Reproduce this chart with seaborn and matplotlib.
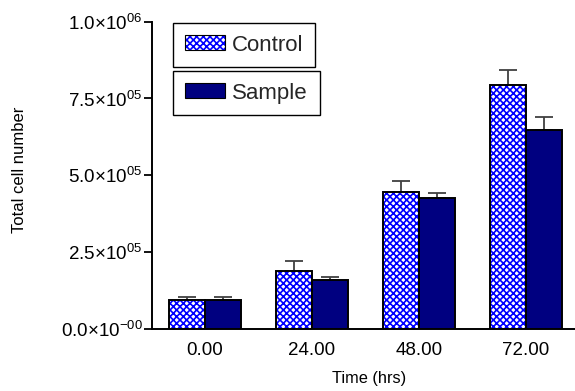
import matplotlib
matplotlib.use("Agg")
import matplotlib.pyplot as plt
from matplotlib.patches import Patch, Rectangle
import numpy as np
import pandas as pd
import seaborn as sns

# ---- data -------------------------------------------------------------
times = ["0.00", "24.00", "48.00", "72.00"]
control = [0.96e5, 1.90e5, 4.45e5, 7.93e5]
control_err = [0.09e5, 0.31e5, 0.38e5, 0.51e5]
sample = [0.95e5, 1.61e5, 4.28e5, 6.49e5]
sample_err = [0.10e5, 0.10e5, 0.16e5, 0.42e5]
groups = ["Control", "Sample"]
y_ticks = [0, 2.5e5, 5.0e5, 7.5e5, 1.0e6]
y_tick_labels = ["0.0×10$^{-00}$", "2.5×10$^{05}$", "5.0×10$^{05}$",
                 "7.5×10$^{05}$", "1.0×10$^{06}$"]

df = pd.DataFrame({
    "time": times * 2,
    "cells": control + sample,
    "group": [groups[0]] * len(times) + [groups[1]] * len(times),
})

# ---- style ------------------------------------------------------------
sns.set_theme(style="ticks")
plt.rcParams.update({
    "font.family": ["Liberation Sans", "DejaVu Sans"],
    "mathtext.fontset": "custom",
    "mathtext.rm": "Liberation Sans",
    "mathtext.it": "Liberation Sans:italic",
    "mathtext.default": "regular",
    "hatch.linewidth": 1.2,
})

fig = plt.figure(figsize=(5.75, 3.91), dpi=100)
ax = fig.add_axes([152 / 575, 1 - 329.3 / 391, 1 - 152 / 575, (329.3 - 21.5) / 391])

navy = "#000080"
hatch_color = "#0000ff"
cross = "xxxxx"
sns.barplot(data=df, x="time", y="cells", hue="group", order=times,
            hue_order=groups, palette=["white", navy], saturation=1,
            width=0.673, errorbar=None, legend=False, ax=ax, zorder=2)

edge_kw = dict(facecolor="none", edgecolor="black", linewidth=1.4, zorder=3)

# control bars: blue cross-hatch on white with a black outline
for bar in ax.containers[0]:
    bar.set_hatch(cross)
    bar.set_edgecolor(hatch_color)
    bar.set_linewidth(0)
    ax.add_patch(Rectangle(bar.get_xy(), bar.get_width(), bar.get_height(), **edge_kw))
# sample bars: solid navy with black outline
for bar in ax.containers[1]:
    bar.set_edgecolor("black")
    bar.set_linewidth(1.4)

# upward error bars
for cont, err in zip(ax.containers[:2], [control_err, sample_err]):
    xs = [b.get_x() + b.get_width() / 2 for b in cont]
    hs = [b.get_height() for b in cont]
    ax.errorbar(xs, hs, yerr=[np.zeros(len(err)), err], fmt="none",
                ecolor="#404040", elinewidth=1.3, capsize=6.5, capthick=1.3,
                zorder=1)

# ---- axes -------------------------------------------------------------
ax.set_ylim(0, 1.0e6)
ax.set_xlim(-0.495, 3.458)
ax.set_yticks(y_ticks)
ax.set_yticklabels(y_tick_labels)
sns.despine(ax=ax)
for s in ["left", "bottom"]:
    ax.spines[s].set_linewidth(1.4)
    ax.spines[s].set_color("black")
ax.tick_params(axis="y", length=6, width=1.3, pad=1, labelsize=13.5,
               colors="black")
ax.tick_params(axis="x", length=0, pad=9, labelsize=13.5, colors="black")

ax.set_xlabel("Time (hrs)", fontsize=11.8, color="black")
ax.set_ylabel("Total cell number", fontsize=12, color="black")
ax.xaxis.set_label_coords(0.513, -0.135)
ax.yaxis.set_label_coords(-0.295, 0.519)

# ---- legend: two separate boxes ---------------------------------------
legend_kw = dict(loc="upper left", bbox_transform=fig.transFigure,
                 borderaxespad=0, frameon=True, fancybox=False, framealpha=1,
                 edgecolor="black", fontsize=16, handlelength=1.8,
                 handleheight=0.66, handletextpad=0.35, borderpad=0.52)
h_control = (Patch(facecolor="white", edgecolor=hatch_color, hatch=cross,
                   linewidth=0),
             Patch(facecolor="none", edgecolor="black", linewidth=0.8))
h_sample = Patch(facecolor=navy, edgecolor="black", linewidth=0.8)

leg1 = ax.legend([h_control], [groups[0]],
                 bbox_to_anchor=(173 / 575, 1 - 23 / 391), **legend_kw)
leg1.get_frame().set_linewidth(1.0)
ax.add_artist(leg1)
leg2 = ax.legend([h_sample], [groups[1]],
                 bbox_to_anchor=(173 / 575, 1 - 71 / 391), **legend_kw)
leg2.get_frame().set_linewidth(1.0)

fig.savefig("out.png", dpi=100)
